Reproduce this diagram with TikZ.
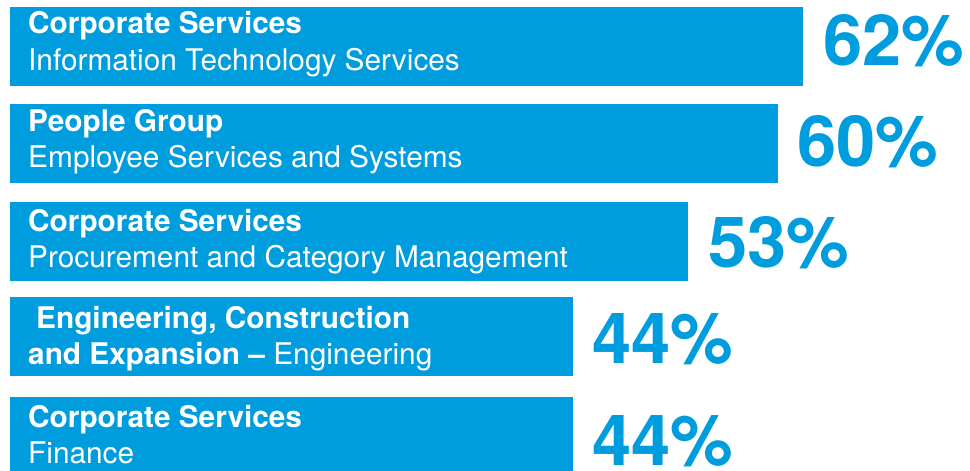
\documentclass[tikz,border=0pt]{standalone}
\usepackage{fontspec}
\setmainfont{TeX Gyre Heros}
\usetikzlibrary{positioning,calc}
\definecolor{barblue}{RGB}{0,157,222}

\begin{document}
\begin{tikzpicture}[x=1pt,y=-1pt] % pixel units, y grows downwards
\tikzset{bar/.style={fill=barblue, draw=none, inner sep=0pt, outer sep=0pt, anchor=north west, minimum height=79pt}} % blue bars
\tikzset{lbl/.style={text=white, font=\fontsize{29.8}{36}\selectfont, align=left, anchor=base west, inner sep=0pt}} % text inside bars, anchored at last line
\tikzset{pct/.style={text=barblue, font=\fontsize{70.5}{70}\selectfont\bfseries, anchor=base west, inner sep=0pt}} % big numbers
\useasboundingbox (0,0) rectangle (970,471);
% bars
\node[bar, minimum width=793pt] (b1) at (10,7) {};
\node[bar, minimum width=768pt] (b2) at (10,104) {};
\node[bar, minimum width=678pt] (b3) at (10,202) {};
\node[bar, minimum width=563pt] (b4) at (10,297) {};
\node[bar, minimum width=563pt] (b5) at (10,397) {};
% labels
\node[lbl] (t1) at ([xshift=18pt,yshift=-63pt]b1.north west) {\textbf{Corporate Services}\\Information Technology Services};
\node[lbl] (t2) at ([xshift=18pt,yshift=-63pt]b2.north west) {\textbf{People Group}\\Employee Services and Systems};
\node[lbl] (t3) at ([xshift=18pt,yshift=-65pt]b3.north west) {\textbf{Corporate Services}\\Procurement and Category Management};
\node[lbl] (t4) at ([xshift=18pt,yshift=-67pt]b4.north west) {\hspace*{8pt}\textbf{Engineering, Construction}\\\textbf{and Expansion --} Engineering};
\node[lbl] (t5) at ([xshift=18pt,yshift=-66pt]b5.north west) {\textbf{Corporate Services}\\Finance};
% percentages
\node[pct] (p1) at ([xshift=20pt,yshift=21pt]b1.south east) {62\%};
\node[pct] (p2) at ([xshift=19pt,yshift=17pt]b2.south east) {60\%};
\node[pct] (p3) at ([xshift=20pt,yshift=14pt]b3.south east) {53\%};
\node[pct] (p4) at ([xshift=19pt,yshift=13pt]b4.south east) {44\%};
\node[pct] (p5) at ([xshift=19pt,yshift=11pt]b5.south east) {44\%};
\end{tikzpicture}
\end{document}
